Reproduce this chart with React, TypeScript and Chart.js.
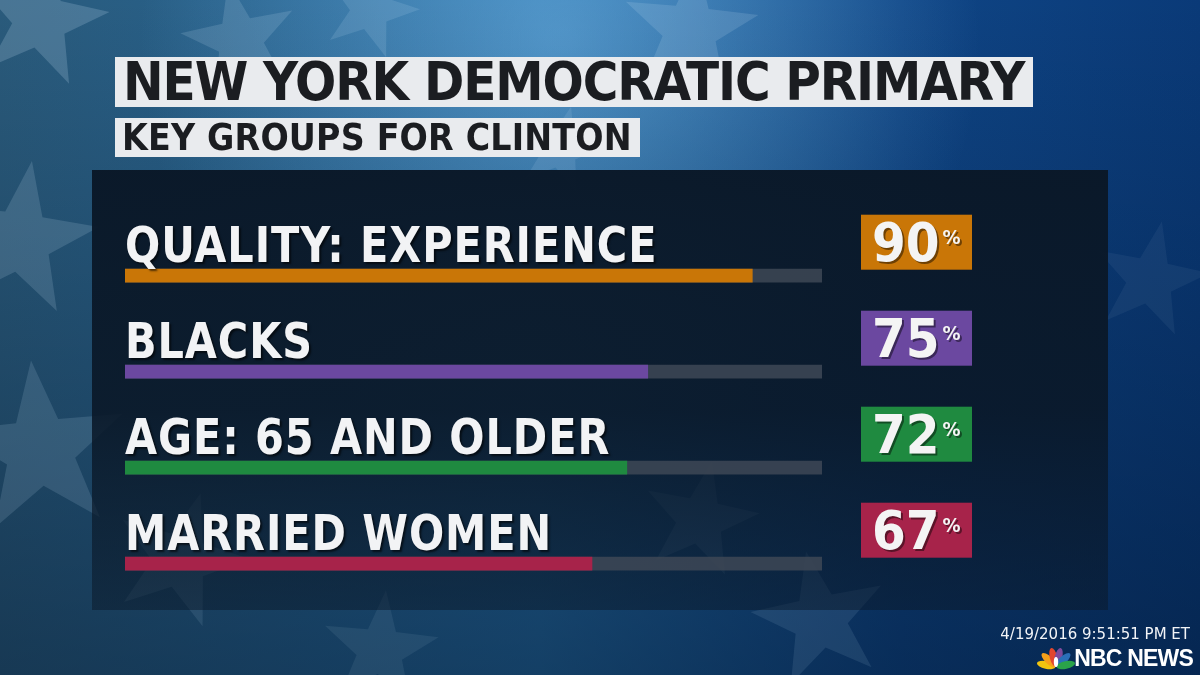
import React, { useEffect, useRef } from "react";
import { Chart, registerables } from "chart.js";

Chart.register(...registerables);

const title = "NEW YORK DEMOCRATIC PRIMARY";
const subtitle = "KEY GROUPS FOR CLINTON";
const categories = ["QUALITY: EXPERIENCE", "BLACKS", "AGE: 65 AND OLDER", "MARRIED WOMEN"];
const values = [90, 75, 72, 67];
const barColors = ["#c97607", "#6b48a0", "#1f8a40", "#a7234a"];
const trackValues = [100, 100, 100, 100];
const timestamp = "4/19/2016 9:51:51 PM ET";
const brand = "NBC NEWS";

const LABEL_FONT = '"DejaVu Sans Condensed", "DejaVu Sans", sans-serif';

function starPath(ctx: CanvasRenderingContext2D, cx: number, cy: number, r: number, rot: number) {
  ctx.beginPath();
  for (let i = 0; i < 10; i++) {
    const rad = i % 2 === 0 ? r : r * 0.4;
    const a = rot + (i * Math.PI) / 5 - Math.PI / 2;
    const x = cx + Math.cos(a) * rad;
    const y = cy + Math.sin(a) * rad;
    if (i === 0) ctx.moveTo(x, y);
    else ctx.lineTo(x, y);
  }
  ctx.closePath();
}

const decoStars: [number, number, number, number, number][] = [
  [40, 20, 70, 0.2, 0.2],
  [240, 40, 60, -0.2, 0.16],
  [370, 10, 50, 0.3, 0.14],
  [690, 30, 70, 0.1, 0.16],
  [560, 150, 45, 0.25, 0.12],
  [20, 240, 80, 0.15, 0.16],
  [40, 450, 90, -0.1, 0.14],
  [180, 560, 70, 0.3, 0.1],
  [700, 520, 60, 0.2, 0.1],
  [820, 620, 70, -0.2, 0.1],
  [380, 650, 60, 0.1, 0.08],
  [1150, 280, 60, 0.2, 0.06],
];

const bgPlugin = {
  id: "bg",
  beforeDraw(chart: any) {
    const ctx: CanvasRenderingContext2D = chart.ctx;
    const W = chart.width;
    const H = chart.height;
    ctx.save();
    const g = ctx.createLinearGradient(0, 0, W, 0);
    g.addColorStop(0, "#2a5b7c");
    g.addColorStop(0.45, "#24679c");
    g.addColorStop(0.75, "#0f4585");
    g.addColorStop(1, "#0a3a78");
    ctx.fillStyle = g;
    ctx.fillRect(0, 0, W, H);
    const rg = ctx.createRadialGradient(560, 40, 10, 560, 40, 420);
    rg.addColorStop(0, "rgba(120,190,240,0.55)");
    rg.addColorStop(1, "rgba(120,190,240,0)");
    ctx.fillStyle = rg;
    ctx.fillRect(0, 0, W, H);
    const vg = ctx.createLinearGradient(0, 0, 0, H);
    vg.addColorStop(0, "rgba(0,15,35,0)");
    vg.addColorStop(1, "rgba(0,15,35,0.45)");
    ctx.fillStyle = vg;
    ctx.fillRect(0, 0, W, H);
    for (const [x, y, r, rot, a] of decoStars) {
      starPath(ctx, x, y, r, rot);
      ctx.fillStyle = `rgba(200,225,245,${a})`;
      ctx.fill();
    }
    // panel
    const pg = ctx.createLinearGradient(0, 170, 0, 610);
    pg.addColorStop(0, "rgba(10,24,40,0.98)");
    pg.addColorStop(0.55, "rgba(10,24,40,0.9)");
    pg.addColorStop(1, "rgba(10,24,40,0.5)");
    ctx.fillStyle = pg;
    ctx.fillRect(92, 170, 1016, 440);
    ctx.restore();
  },
};

const rowPlugin = {
  id: "rows",
  afterDatasetsDraw(chart: any) {
    const ctx: CanvasRenderingContext2D = chart.ctx;
    const meta = chart.getDatasetMeta(0);
    const area = chart.chartArea;
    ctx.save();
    meta.data.forEach((bar: any, i: number) => {
      const y = bar.y;
      // label
      ctx.save();
      ctx.shadowColor = "rgba(0,0,0,0.6)";
      ctx.shadowOffsetX = 2;
      ctx.shadowOffsetY = 2;
      ctx.shadowBlur = 2;
      ctx.fillStyle = "#f2f3f5";
      ctx.font = `bold 49px ${LABEL_FONT}`;
      (ctx as any).letterSpacing = "1px";
      ctx.textBaseline = "alphabetic";
      ctx.textAlign = "left";
      ctx.translate(area.left, y - 14);
      ctx.scale(0.94, 1);
      ctx.fillText(categories[i], 0, 0);
      ctx.restore();
      // value box
      const bx = area.right + 39;
      const by = y - 61;
      ctx.fillStyle = barColors[i];
      ctx.fillRect(bx, by, 111, 55);
      ctx.save();
      ctx.shadowColor = "rgba(0,0,0,0.45)";
      ctx.shadowOffsetX = 2;
      ctx.shadowOffsetY = 2;
      ctx.fillStyle = "#f4f4f4";
      ctx.font = `bold 54px ${LABEL_FONT}`;
      (ctx as any).letterSpacing = "0px";
      const txt = String(values[i]);
      ctx.fillText(txt, bx + 11, y - 15);
      const w = ctx.measureText(txt).width;
      ctx.font = `bold 20px ${LABEL_FONT}`;
      ctx.fillText("%", bx + 14 + w, y - 32);
      ctx.restore();
    });
    ctx.restore();
  },
};

const peacockColors = ["#f1c40f", "#f6a01a", "#e2462d", "#7d4a9c", "#2a6fb8", "#2aa34a"];

const logoPlugin = {
  id: "logo",
  afterDraw(chart: any) {
    const ctx: CanvasRenderingContext2D = chart.ctx;
    ctx.save();
    const cx = 1056;
    const cy = 667;
    const deg = [-168, -136, -104, -76, -44, -12];
    deg.forEach((d, j) => {
      const a = (d * Math.PI) / 180;
      ctx.save();
      ctx.translate(cx + Math.cos(a) * 10, cy + Math.sin(a) * 10);
      ctx.rotate(a + Math.PI / 2);
      ctx.beginPath();
      ctx.ellipse(0, 0, 3.8, 9.5, 0, 0, Math.PI * 2);
      ctx.fillStyle = peacockColors[j];
      ctx.fill();
      ctx.restore();
    });
    ctx.beginPath();
    ctx.ellipse(cx, cy - 5, 2.2, 5, 0, 0, Math.PI * 2);
    ctx.fillStyle = "#ffffff";
    ctx.fill();
    ctx.restore();
  },
};

export default function App() {
  const ref = useRef<HTMLCanvasElement | null>(null);
  useEffect(() => {
    document.body.style.margin = "0";
    const chart = new Chart(ref.current as HTMLCanvasElement, {
      type: "bar",
      data: {
        labels: categories,
        datasets: [
          {
            data: values,
            backgroundColor: barColors,
            barThickness: 13,
            grouped: false,
            borderWidth: 0,
          },
          {
            data: trackValues,
            backgroundColor: "rgba(62,72,86,0.85)",
            barThickness: 13,
            grouped: false,
            borderWidth: 0,
          },
        ],
      },
      options: {
        indexAxis: "y",
        animation: false,
        responsive: false,
        events: [],
        layout: { padding: { left: 125, right: 378, top: 227.7, bottom: 63.3 } },
        scales: {
          x: { display: false, min: 0, max: 100 },
          y: { display: false },
        },
        plugins: { legend: { display: false }, tooltip: { enabled: false } },
      },
      plugins: [bgPlugin, rowPlugin, logoPlugin],
    } as any);
    return () => chart.destroy();
  }, []);

  const boxBase: React.CSSProperties = {
    position: "absolute",
    left: 115,
    background: "#e9ebee",
    color: "#1b1d21",
    fontFamily: LABEL_FONT,
    fontWeight: "bold",
    whiteSpace: "nowrap",
    boxSizing: "border-box",
    display: "flex",
    alignItems: "center",
  };

  return (
    <div style={{ position: "fixed", left: 0, top: 0, width: 1200, height: 675, overflow: "hidden" }}>
      <canvas ref={ref} width={1200} height={675} style={{ position: "absolute", left: 0, top: 0 }} />
      <div style={{ ...boxBase, top: 57, width: 918, height: 50, fontSize: 54, paddingLeft: 8, letterSpacing: -1.1, lineHeight: "50px" }}>
        {title}
      </div>
      <div style={{ ...boxBase, top: 118, width: 525, height: 39, fontSize: 37, paddingLeft: 7, letterSpacing: 0.2, lineHeight: "39px" }}>
        {subtitle}
      </div>
      <div
        style={{
          position: "absolute",
          right: 10,
          top: 625,
          color: "#f2f4f7",
          fontFamily: '"DejaVu Sans", sans-serif',
          fontSize: 15,
          whiteSpace: "nowrap",
        }}
      >
        {timestamp}
      </div>
      <div
        style={{
          position: "absolute",
          right: 7,
          top: 645,
          color: "#ffffff",
          fontFamily: '"Liberation Sans", sans-serif',
          fontWeight: "bold",
          fontSize: 23,
          letterSpacing: -0.8,
          whiteSpace: "nowrap",
        }}
      >
        {brand}
      </div>
    </div>
  );
}
